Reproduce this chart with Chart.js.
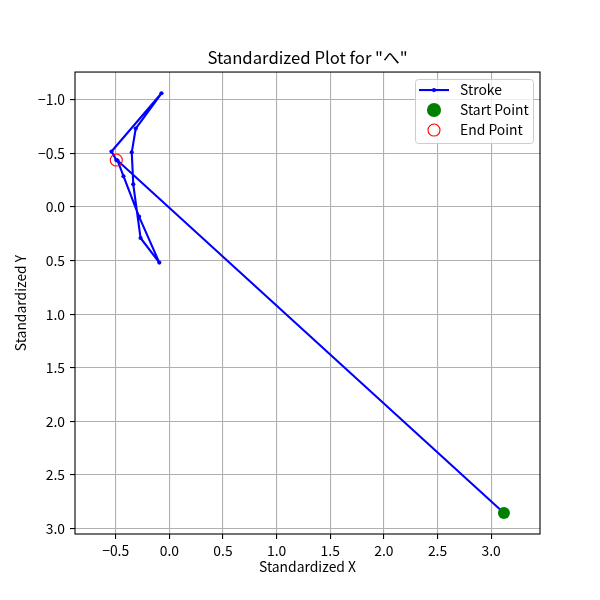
<!DOCTYPE html>
<html>
<head>
<meta charset="utf-8">
<script src="https://cdn.jsdelivr.net/npm/chart.js@4/dist/chart.umd.min.js"></script>
<style>
html, body { margin: 0; padding: 0; background: #fff; }
#wrap { width: 600px; height: 600px; }
</style>
</head>
<body>
<div id="wrap"><canvas id="c"></canvas></div>
<script>
// stroke points, in drawing order (first = start, last = end)
const strokeX = [3.119, -0.483, -0.427, -0.282, -0.093, -0.268, -0.336, -0.350, -0.313, -0.073, -0.539, -0.494];
const strokeY = [2.854, -0.434, -0.287, 0.089, 0.518, 0.289, -0.212, -0.510, -0.732, -1.061, -0.518, -0.438];
const startX = [3.119];
const startY = [2.854];
const endX = [-0.494];
const endY = [-0.438];

const xTicks = [-0.5, 0.0, 0.5, 1.0, 1.5, 2.0, 2.5, 3.0];
const yTicks = [-1.0, -0.5, 0.0, 0.5, 1.0, 1.5, 2.0, 2.5, 3.0];
const xLimits = [-0.879, 3.455];
const yLimits = [-1.259, 3.05];

const FONT = '"Noto Sans CJK JP", "Noto Sans", sans-serif';

const toPoints = (xs, ys) => xs.map((x, i) => ({x: x, y: ys[i]}));
const fmt = v => v.toFixed(1).replace('-', '\u2212');

// full frame round the axes, like matplotlib spines
const frame = {
  id: 'frame',
  afterDraw(chart) {
    const {ctx, chartArea: a} = chart;
    ctx.save();
    ctx.strokeStyle = '#000';
    ctx.lineWidth = 1.1;
    ctx.strokeRect(a.left, a.top, a.right - a.left, a.bottom - a.top);
    ctx.restore();
  }
};

// legend box in the upper right corner of the axes
const boxLegend = {
  id: 'boxLegend',
  afterDraw(chart) {
    const {ctx, chartArea: a} = chart;
    const ds = chart.data.datasets;
    const w = 118, h = 64;
    const x0 = a.right - 7 - w, y0 = a.top + 7;
    ctx.save();
    ctx.fillStyle = 'rgba(255,255,255,0.8)';
    ctx.strokeStyle = '#cccccc';
    ctx.lineWidth = 1;
    ctx.beginPath();
    if (ctx.roundRect) ctx.roundRect(x0 + 0.5, y0 + 0.5, w, h, 3);
    else ctx.rect(x0 + 0.5, y0 + 0.5, w, h);
    ctx.fill();
    ctx.stroke();

    const hx = x0 + 19;
    ds.forEach((d, i) => {
      const y = y0 + 11 + i * 20;
      if (d.showLine) {
        ctx.strokeStyle = d.borderColor;
        ctx.lineWidth = d.borderWidth;
        ctx.beginPath();
        ctx.moveTo(hx - 15, y);
        ctx.lineTo(hx + 15, y);
        ctx.stroke();
        ctx.fillStyle = d.pointBackgroundColor;
        ctx.beginPath();
        ctx.arc(hx, y, d.pointRadius, 0, Math.PI * 2);
        ctx.fill();
      } else {
        ctx.beginPath();
        ctx.arc(hx, y, d.pointRadius, 0, Math.PI * 2);
        if (d.pointBackgroundColor !== 'transparent') {
          ctx.fillStyle = d.pointBackgroundColor;
          ctx.fill();
        }
        ctx.strokeStyle = d.pointBorderColor;
        ctx.lineWidth = d.pointBorderWidth;
        ctx.stroke();
      }
      ctx.fillStyle = '#000';
      ctx.font = '13.9px ' + FONT;
      ctx.textAlign = 'left';
      ctx.textBaseline = 'middle';
      ctx.fillText(d.label, x0 + 45, y);
    });
    ctx.restore();
  }
};

const config = {
  type: 'scatter',
  data: {
    datasets: [
      {
        label: 'Stroke',
        data: toPoints(strokeX, strokeY),
        showLine: true,
        borderColor: '#0000ff',
        borderWidth: 2.1,
        borderJoinStyle: 'round',
        borderCapStyle: 'round',
        pointRadius: 2.1,
        pointBackgroundColor: '#0000ff',
        pointBorderColor: '#0000ff',
        pointBorderWidth: 0,
        order: 3
      },
      {
        label: 'Start Point',
        data: toPoints(startX, startY),
        pointRadius: 6,
        pointBackgroundColor: '#008000',
        pointBorderColor: '#008000',
        pointBorderWidth: 0,
        order: 2
      },
      {
        label: 'End Point',
        data: toPoints(endX, endY),
        pointRadius: 6,
        pointBackgroundColor: 'transparent',
        pointBorderColor: '#ff0000',
        pointBorderWidth: 1.1,
        order: 1
      }
    ]
  },
  options: {
    responsive: true,
    maintainAspectRatio: false,
    animation: false,
    devicePixelRatio: 1,
    layout: { padding: { left: 0, right: 60, top: 0, bottom: 0 } },
    scales: {
      x: {
        type: 'linear',
        min: xLimits[0],
        max: xLimits[1],
        afterBuildTicks: s => { s.ticks = xTicks.map(v => ({value: v})); },
        afterFit: s => { s.height = 66; },
        border: { display: false },
        grid: { color: '#b0b0b0', lineWidth: 1.1, tickColor: '#000', tickLength: 5, tickWidth: 1.1 },
        ticks: {
          callback: v => fmt(v),
          color: '#000',
          font: { family: FONT, size: 13.9 },
          padding: 3,
          maxRotation: 0,
          autoSkip: false
        },
        title: {
          display: true,
          text: 'Standardized X',
          color: '#000',
          font: { family: FONT, size: 13.9 },
          padding: { top: 25, bottom: 25 }
        }
      },
      y: {
        type: 'linear',
        reverse: true,
        min: yLimits[0],
        max: yLimits[1],
        afterBuildTicks: s => { s.ticks = yTicks.map(v => ({value: v})); },
        afterFit: s => { s.width = 75; },
        border: { display: false },
        grid: { color: '#b0b0b0', lineWidth: 1.1, tickColor: '#000', tickLength: 5, tickWidth: 1.1 },
        ticks: {
          callback: v => fmt(v),
          color: '#000',
          font: { family: FONT, size: 13.9 },
          padding: 5,
          autoSkip: false
        },
        title: {
          display: true,
          text: 'Standardized Y',
          color: '#000',
          font: { family: FONT, size: 13.9 },
          padding: { top: 12, bottom: 12 }
        }
      }
    },
    plugins: {
      legend: { display: false },
      tooltip: { enabled: false },
      title: {
        display: true,
        text: 'Standardized Plot for "へ"',
        fullSize: false,
        color: '#000',
        font: { family: FONT, size: 16.7, weight: 'normal' },
        padding: { top: 48, bottom: 4 }
      }
    }
  },
  plugins: [frame, boxLegend]
};

new Chart(document.getElementById('c'), config);
</script>
</body>
</html>
